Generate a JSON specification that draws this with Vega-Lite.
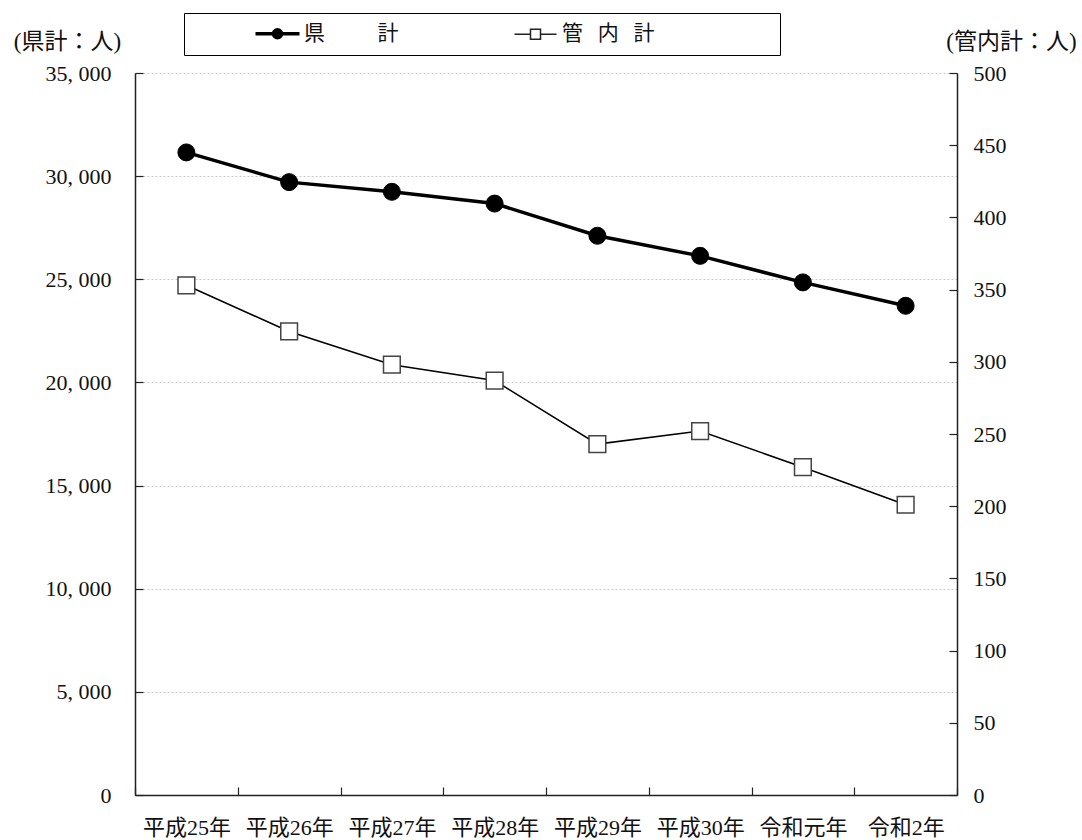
{
  "$schema": "https://vega.github.io/schema/vega-lite/v6.json",
  "autosize": {"type": "none"},
  "padding": {"left": 135, "top": 73, "right": 125, "bottom": 45},
  "width": 822,
  "height": 722,
  "background": "white",
  "config": {
    "view": {"stroke": null},
    "font": "'Liberation Serif', 'Noto Sans CJK JP', serif",
    "axis": {
      "domainColor": "#222",
      "domainWidth": 1.5,
      "tickColor": "#222",
      "tickWidth": 1.2,
      "labelColor": "#111",
      "titleColor": "#111",
      "labelFont": "'Liberation Serif', 'Noto Sans CJK JP', serif",
      "titleFont": "'Liberation Serif', 'Noto Sans CJK JP', serif",
      "labelFontSize": 22,
      "titleFontSize": 23,
      "titleFontWeight": "normal"
    }
  },
  "data": {
    "values": [
      {"year": "平成25年", "series": "県計", "value": 31150},
      {"year": "平成26年", "series": "県計", "value": 29710},
      {"year": "平成27年", "series": "県計", "value": 29240},
      {"year": "平成28年", "series": "県計", "value": 28670},
      {"year": "平成29年", "series": "県計", "value": 27110},
      {"year": "平成30年", "series": "県計", "value": 26135},
      {"year": "令和元年", "series": "県計", "value": 24850},
      {"year": "令和2年", "series": "県計", "value": 23715},
      {"year": "平成25年", "series": "管内計", "value": 353},
      {"year": "平成26年", "series": "管内計", "value": 321},
      {"year": "平成27年", "series": "管内計", "value": 298},
      {"year": "平成28年", "series": "管内計", "value": 287},
      {"year": "平成29年", "series": "管内計", "value": 243},
      {"year": "平成30年", "series": "管内計", "value": 252},
      {"year": "令和元年", "series": "管内計", "value": 227},
      {"year": "令和2年", "series": "管内計", "value": 201}
    ]
  },
  "encoding": {
    "x": {
      "field": "year",
      "type": "ordinal",
      "sort": null,
      "scale": {"type": "band", "paddingInner": 0, "paddingOuter": 0},
      "axis": {
        "title": null,
        "labelAngle": 0,
        "tickBand": "extent",
        "tickSize": -8,
        "labelPadding": 30,
        "labelBaseline": "top",
        "grid": false
      }
    }
  },
  "layer": [
    {
      "transform": [{"filter": "datum.series === '県計'"}],
      "encoding": {
        "y": {
          "field": "value",
          "type": "quantitative",
          "scale": {"domain": [0, 35000], "nice": false, "zero": true},
          "axis": {
            "orient": "left",
            "values": [0, 5000, 10000, 15000, 20000, 25000, 30000, 35000],
            "labelExpr": "replace(format(datum.value, ','), ',', ', ')",
            "tickSize": -8,
            "labelPadding": 32,
            "grid": true,
            "gridDash": [2, 2],
            "gridColor": "#c8c8c8",
            "gridWidth": 1,
            "title": "(県計：人)",
            "titleAngle": 0,
            "titleAlign": "center",
            "titleBaseline": "middle",
            "titleX": -68,
            "titleY": -32
          }
        }
      },
      "layer": [
        {"mark": {"type": "line", "color": "black", "strokeWidth": 3.5}},
        {
          "mark": {"type": "point", "shape": "circle", "filled": true, "fill": "black", "stroke": "black", "strokeWidth": 1, "size": 289, "opacity": 1}
        },
        {
          "mark": {"type": "point", "filled": true, "opacity": 0, "size": 100},
          "encoding": {
            "shape": {
              "field": "series",
              "type": "nominal",
              "scale": {
                "domain": ["県計", "管内計"],
                "range": [
                  "M-4.4,0H4.4M0.8,0A0.8,0.8,0,1,1,-0.8,0A0.8,0.8,0,1,1,0.8,0Z",
                  "M-4.2,0H-1M1,0H4.2M-1,-1H1V1H-1Z"
                ]
              },
              "legend": {
                "title": null,
                "orient": "none",
                "legendX": 49,
                "legendY": -60,
                "direction": "horizontal",
                "strokeColor": "black",
                "fillColor": "white",
                "padding": 10,
                "symbolSize": 100,
                "symbolOpacity": 1,
                "symbolOffset": 73,
                "labelOffset": 16,
                "columnPadding": 53,
                "labelFont": "'Noto Sans CJK JP'",
                "labelFontSize": 21,
                "labelColor": "#111",
                "labelLimit": 600,
                "labelExpr": "datum.value === '県計' ? '県\u3000\u3000\u2002計' : '管\u2002\u2009内\u2002\u2009計\u3000\u3000\u3000\u3000\u3000\u2002\u200b'"
              }
            },
            "fill": {
              "field": "series",
              "type": "nominal",
              "scale": {"domain": ["県計", "管内計"], "range": ["black", "white"]}
            },
            "stroke": {
              "field": "series",
              "type": "nominal",
              "scale": {"domain": ["県計", "管内計"], "range": ["black", "#222222"]}
            },
            "strokeWidth": {
              "field": "series",
              "type": "nominal",
              "scale": {"domain": ["県計", "管内計"], "range": [3.5, 1.5]}
            }
          }
        }
      ]
    },
    {
      "transform": [{"filter": "datum.series === '管内計'"}],
      "encoding": {
        "y": {
          "field": "value",
          "type": "quantitative",
          "scale": {"domain": [0, 500], "nice": false, "zero": true},
          "axis": {
            "orient": "right",
            "values": [0, 50, 100, 150, 200, 250, 300, 350, 400, 450, 500],
            "tickSize": -8,
            "labelPadding": 24,
            "grid": false,
            "title": "(管内計：人)",
            "titleAngle": 0,
            "titleAlign": "center",
            "titleBaseline": "middle",
            "titleX": 54,
            "titleY": -32
          }
        }
      },
      "layer": [
        {"mark": {"type": "line", "color": "black", "strokeWidth": 1.5}},
        {
          "mark": {"type": "point", "shape": "square", "filled": true, "fill": "white", "stroke": "#444", "strokeWidth": 1.5, "size": 280, "opacity": 1}
        }
      ]
    }
  ],
  "resolve": {"scale": {"y": "independent"}}
}
